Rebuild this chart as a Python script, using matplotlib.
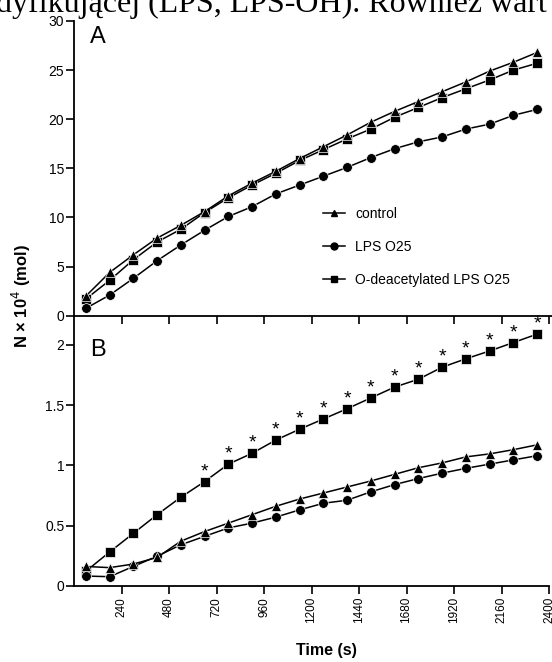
import matplotlib
matplotlib.use("Agg")
import matplotlib.pyplot as plt
from matplotlib.lines import Line2D
import numpy as np

plt.rcParams['font.family'] = ['Liberation Sans', 'DejaVu Sans']

# ---- data ----
time_s = [60, 180, 300, 420, 540, 660, 780, 900, 1020, 1140,
          1260, 1380, 1500, 1620, 1740, 1860, 1980, 2100, 2220, 2340]

a_control = [2.0, 4.4, 6.2, 7.9, 9.2, 10.6, 12.2, 13.5, 14.7, 16.0,
             17.2, 18.4, 19.7, 20.8, 21.8, 22.8, 23.8, 24.9, 25.8, 26.8]
a_lps = [0.75, 2.1, 3.8, 5.6, 7.2, 8.7, 10.1, 11.1, 12.4, 13.3,
         14.2, 15.1, 16.1, 17.0, 17.7, 18.2, 19.0, 19.5, 20.4, 21.0]
a_deac = [1.7, 3.6, 5.7, 7.5, 8.8, 10.5, 12.0, 13.3, 14.5, 15.8,
          16.9, 18.0, 19.0, 20.2, 21.2, 22.2, 23.1, 24.0, 25.0, 25.7]

b_control = [0.16, 0.15, 0.18, 0.235, 0.37, 0.45, 0.52, 0.59, 0.66, 0.72,
             0.77, 0.82, 0.87, 0.925, 0.98, 1.02, 1.07, 1.095, 1.13, 1.17]
b_lps = [0.08, 0.075, 0.16, 0.245, 0.34, 0.41, 0.48, 0.52, 0.57, 0.63,
         0.685, 0.71, 0.78, 0.84, 0.89, 0.935, 0.975, 1.01, 1.045, 1.08]
b_deac = [0.12, 0.28, 0.435, 0.59, 0.735, 0.865, 1.01, 1.10, 1.21, 1.30,
          1.385, 1.47, 1.56, 1.65, 1.715, 1.815, 1.885, 1.95, 2.02, 2.09]
# significance stars (O-deacetylated LPS vs others), from 660 s on
b_signif = [False] * 5 + [True] * 15

labels = ["control", "LPS O25", "O-deacetylated LPS O25"]
a_yticks = [0, 5, 10, 15, 20, 25, 30]
b_yticks = [0, 0.5, 1, 1.5, 2]
b_yticklabels = ["0", "0.5", "1", "1.5", "2"]
xticks = [240, 480, 720, 960, 1200, 1440, 1680, 1920, 2160, 2400]

# ---- figure ----
W, H = 552, 662
fig = plt.figure(figsize=(W / 100, H / 100), dpi=100)

def fx(px):
    return px / W

def fy(py):
    return 1 - py / H

left_px, right_px = 74, 549
a_top, a_bot = 21, 315.7
b_bot = 585.7

# cropped line of text at the top of the page (drawn first, behind axes)
fig.text(fx(-4), fy(12), "dyfikującej (LPS, LPS-OH). Również wart",
         family=['Liberation Serif', 'DejaVu Serif'], fontsize=23, ha='left', va='baseline')

axA = fig.add_axes([fx(left_px), fy(a_bot), fx(552 - left_px), (a_bot - a_top) / H])
axB = fig.add_axes([fx(left_px), fy(b_bot), fx(right_px - left_px), (b_bot - a_bot) / H])

styles = {
    "control": dict(marker='^', ms=7.5, zorder=5),
    "lps": dict(marker='o', ms=7, zorder=4),
    "deac": dict(marker='s', ms=6.5, zorder=3),
}
common = dict(color='black', lw=1.1, mfc='black', mec='white', mew=0.5)

for ax, ctl, lps, deac in [(axA, a_control, a_lps, a_deac), (axB, b_control, b_lps, b_deac)]:
    ax.plot(time_s, deac, **styles["deac"], **common)
    ax.plot(time_s, lps, **styles["lps"], **common)
    ax.plot(time_s, ctl, **styles["control"], **common)
    ax.set_xticks(xticks)
    for s in ['top', 'right']:
        ax.spines[s].set_visible(False)
    for s in ['left', 'bottom']:
        ax.spines[s].set_linewidth(1.3)
    ax.tick_params(direction='out', length=6, width=1.2, colors='black', pad=1)
    ax.tick_params(axis='y', labelsize=10)
    ax.patch.set_alpha(0)

axA.set_xlim(0, 2400 * (552 - left_px) / (right_px - left_px))
axB.set_xlim(0, 2400)

axA.set_ylim(0, 30)
axA.set_yticks(a_yticks)
axA.tick_params(axis='x', labelbottom=False)

axB.set_ylim(0, 2.243)
axB.set_yticks(b_yticks)
axB.set_yticklabels(b_yticklabels)
axB.tick_params(axis='x', labelsize=8.5, labelrotation=90, pad=2)

# stars
for t, v, s in zip(time_s, b_deac, b_signif):
    if s:
        axB.annotate('*', (t, v), xytext=(0, 4), textcoords='offset points',
                     ha='center', va='baseline', fontsize=14)

# panel letters
fig.text(fx(90), fy(37), "A", fontsize=17, ha='left', va='center')
fig.text(fx(90), fy(350), "B", fontsize=17, ha='left', va='center')

# legend
handles = [
    Line2D([], [], color='black', lw=1.1, marker='^', ms=5, mfc='black', mec='black'),
    Line2D([], [], color='black', lw=1.1, marker='o', ms=5, mfc='black', mec='black'),
    Line2D([], [], color='black', lw=1.1, marker='s', ms=4.5, mfc='black', mec='black'),
]
fig.legend(handles, labels, loc='upper left', bbox_to_anchor=(fx(323), fy(207)),
           frameon=False, fontsize=10, handlelength=1.6, handletextpad=0.7,
           labelspacing=1.38, borderpad=0, borderaxespad=0)

# axis labels
fig.text(fx(21), fy(296), "N × 10$^4$ (mol)", rotation=90, ha='center', va='center',
         fontsize=12, fontweight='bold')
fig.text(fx(326), fy(650), "Time (s)", ha='center', va='center', fontsize=11.5, fontweight='bold')

fig.savefig("out.png", dpi=100, facecolor='white')
